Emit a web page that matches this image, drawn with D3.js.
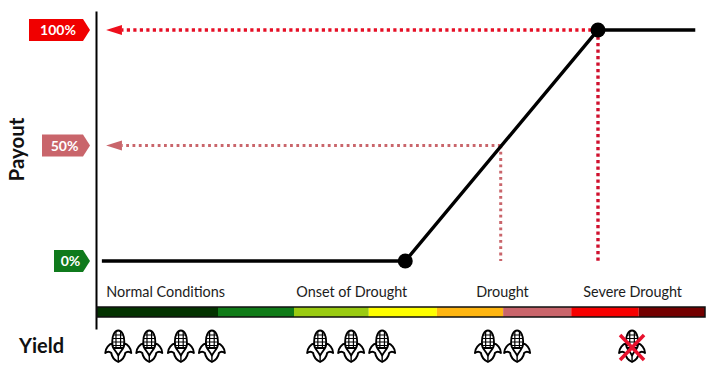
<!DOCTYPE html>
<html lang="en">
<head>
  <meta charset="UTF-8">
  <title>Drought payout</title>
  <script src="https://d3js.org/d3.v7.min.js"></script>
  <style>
    html, body { margin: 0; padding: 0; background: #fff; }
    svg { display: block; font-family: "Lato", "Open Sans", sans-serif; }
    .stage-label { font-size: 14.4px; fill: #1c1c1c; text-anchor: middle; }
    .axis-title { font-weight: 700; fill: #111; }
    .tag-label { font-size: 14px; font-weight: 700; fill: #fff; text-anchor: middle; }
  </style>
</head>
<body>
<script>
  // hazard index 0-100 along x, payout % along y
  const payoutLine = [[0.8, 0], [50.7, 0], [82.4, 100], [98.4, 100]];
  const kinks = [[50.7, 0], [82.4, 100]];

  const tagValues = [100, 50, 0];
  const tagNames = ["100%", "50%", "0%"];
  const tagColors = ["#f00000", "#c9656b", "#0f7a1c"];
  const tagLefts = [29, 42, 54];

  const bandStops = [0, 19.9, 32.4, 44.7, 55.9, 66.8, 78, 89.1, 100];
  const bandColors = ["#033300", "#107c18", "#9acb12", "#ffff00", "#ffb612", "#c9656b", "#f70000", "#730000"];

  const stageNames = ["Normal Conditions", "Onset of Drought", "Drought", "Severe Drought"];
  const stageCenters = [11.3, 41.9, 66.7, 88.1];

  const cornIndex = [3.5, 8.6, 13.8, 18.9, 36.7, 41.8, 46.9, 64.3, 69.1, 88];
  const cornLost = [false, false, false, false, false, false, false, false, false, true];

  const width = 725;
  const height = 376;

  const x = d3.scaleLinear().domain([0, 100]).range([97, 705]);
  const y = d3.scaleLinear().domain([-29.4, 108.2]).range([329, 11]);

  const svg = d3.select("body").append("svg")
    .attr("width", width)
    .attr("height", height);

  const defs = svg.append("defs");

  // corn icon, drawn around its own centre
  const corn = defs.append("g").attr("id", "corn");
  corn.append("path")
    .attr("d", "M0,-15.5 C4,-15.5 6,-10 6,-5 L6,2 L-6,2 L-6,-5 C-6,-10 -4,-15.5 0,-15.5 Z")
    .attr("fill", "#fff").attr("stroke", "#000").attr("stroke-width", 1.8);
  corn.append("path")
    .attr("d", "M-2.3,-15 L-2.3,2 M2.3,-15 L2.3,2 M-5.4,-11 L5.4,-11 M-6,-7.5 L6,-7.5 M-6,-4 L6,-4 M-6,-0.5 L6,-0.5")
    .attr("fill", "none").attr("stroke", "#000").attr("stroke-width", 1.2);
  // husk leaves
  corn.append("path")
    .attr("d", "M-6,-2.5 C-9,-2 -13,2 -13,7 C-11,5.5 -8.5,5.5 -7,7 C-6.5,10.5 -4,14 0,16 C4,14 6.5,10.5 7,7 C8.5,5.5 11,5.5 13,7 C13,2 9,-2 6,-2.5 C6.5,2 3,4 0,9.5 C-3,4 -6.5,2 -6,-2.5 Z")
    .attr("fill", "#fff").attr("stroke", "#000").attr("stroke-width", 1.9).attr("stroke-linejoin", "round");
  corn.append("path")
    .attr("d", "M0,9.5 L0,15")
    .attr("fill", "none").attr("stroke", "#000").attr("stroke-width", 1.4);

  // y axis is just the black rule
  svg.append("g")
    .attr("transform", `translate(${x(0) - 1},0)`)
    .call(d3.axisLeft(y).tickValues([]).tickSize(0))
    .select(".domain")
    .attr("stroke", "#000")
    .attr("stroke-width", 2);

  // payout tags
  const tags = svg.append("g").selectAll("g")
    .data(tagValues)
    .join("g");

  tags.append("path")
    .attr("d", (d, i) => {
      const yy = y(d);
      return d3.line()([
        [tagLefts[i], yy - 11], [83, yy - 11], [90, yy], [83, yy + 11], [tagLefts[i], yy + 11]
      ]) + "Z";
    })
    .attr("fill", (d, i) => tagColors[i]);

  tags.append("text")
    .attr("class", "tag-label")
    .attr("x", (d, i) => (tagLefts[i] + 85) / 2 + 1)
    .attr("y", d => y(d) + 5)
    .text((d, i) => tagNames[i]);

  // dotted guides, horizontal then vertical
  const guide = d3.line().x(d => x(d[0])).y(d => y(d[1]));

  svg.append("path")
    .attr("d", guide([[82.4, 100], [4.1, 100]]))
    .attr("fill", "none").attr("stroke", "#e60f26")
    .attr("stroke-width", 3.4).attr("stroke-dasharray", "3.2 3.3");
  svg.append("path")
    .attr("d", guide([[82.4, 100], [82.4, 0]]))
    .attr("fill", "none").attr("stroke", "#d0102e")
    .attr("stroke-width", 3.4).attr("stroke-dasharray", "3.2 3.3");
  svg.append("path")
    .attr("d", guide([[66.4, 50], [4.1, 50]]))
    .attr("fill", "none").attr("stroke", "#c9656b")
    .attr("stroke-width", 2.8).attr("stroke-dasharray", "2.8 3.5");
  svg.append("path")
    .attr("d", guide([[66.4, 50], [66.4, 0]]))
    .attr("fill", "none").attr("stroke", "#c9656b")
    .attr("stroke-width", 3).attr("stroke-dasharray", "2.8 3.5");

  // arrow heads on the guides
  svg.append("g").selectAll("path")
    .data([100, 50])
    .join("path")
    .attr("d", d => d3.line()([
      [x(1.5), y(d)], [x(4.1), y(d) - 5], [x(4.1), y(d) + 5]
    ]) + "Z")
    .attr("fill", d => d === 100 ? "#ee0f1c" : "#c9656b");

  // payout curve
  svg.append("path")
    .attr("d", d3.line().x(d => x(d[0])).y(d => y(d[1]))(payoutLine))
    .attr("fill", "none")
    .attr("stroke", "#000")
    .attr("stroke-width", 3.4)
    .attr("stroke-linejoin", "round");

  svg.append("g").selectAll("circle")
    .data(kinks)
    .join("circle")
    .attr("cx", d => x(d[0]))
    .attr("cy", d => y(d[1]))
    .attr("r", 7.5)
    .attr("fill", "#000");

  // stage labels
  svg.append("g").selectAll("text")
    .data(stageNames)
    .join("text")
    .attr("class", "stage-label")
    .attr("x", (d, i) => x(stageCenters[i]))
    .attr("y", 297)
    .text(d => d);

  // severity bar
  svg.append("g").selectAll("rect")
    .data(bandColors)
    .join("rect")
    .attr("x", (d, i) => x(bandStops[i]))
    .attr("y", 307)
    .attr("width", (d, i) => x(bandStops[i + 1]) - x(bandStops[i]))
    .attr("height", 10)
    .attr("fill", d => d);

  svg.append("rect")
    .attr("x", x(0))
    .attr("y", 307)
    .attr("width", x(100) - x(0))
    .attr("height", 10)
    .attr("fill", "none")
    .attr("stroke", "#111")
    .attr("stroke-width", 1.5);

  // yield icons
  const icons = svg.append("g").selectAll("g")
    .data(cornIndex)
    .join("g")
    .attr("transform", d => `translate(${x(d)},346)`);

  icons.append("use").attr("href", "#corn");

  icons.filter((d, i) => cornLost[i])
    .append("path")
    .attr("d", "M-12,-11 L12,14 M12,-11 L-12,14")
    .attr("fill", "none")
    .attr("stroke", "#e8112d")
    .attr("stroke-width", 3.5);

  // titles
  svg.append("text")
    .attr("class", "axis-title")
    .attr("font-size", 20.5)
    .attr("transform", "translate(23.5,149.5) rotate(-90)")
    .attr("text-anchor", "middle")
    .text("Payout");

  svg.append("text")
    .attr("class", "axis-title")
    .attr("font-size", 20)
    .attr("x", 19)
    .attr("y", 353)
    .text("Yield");
</script>
</body>
</html>
